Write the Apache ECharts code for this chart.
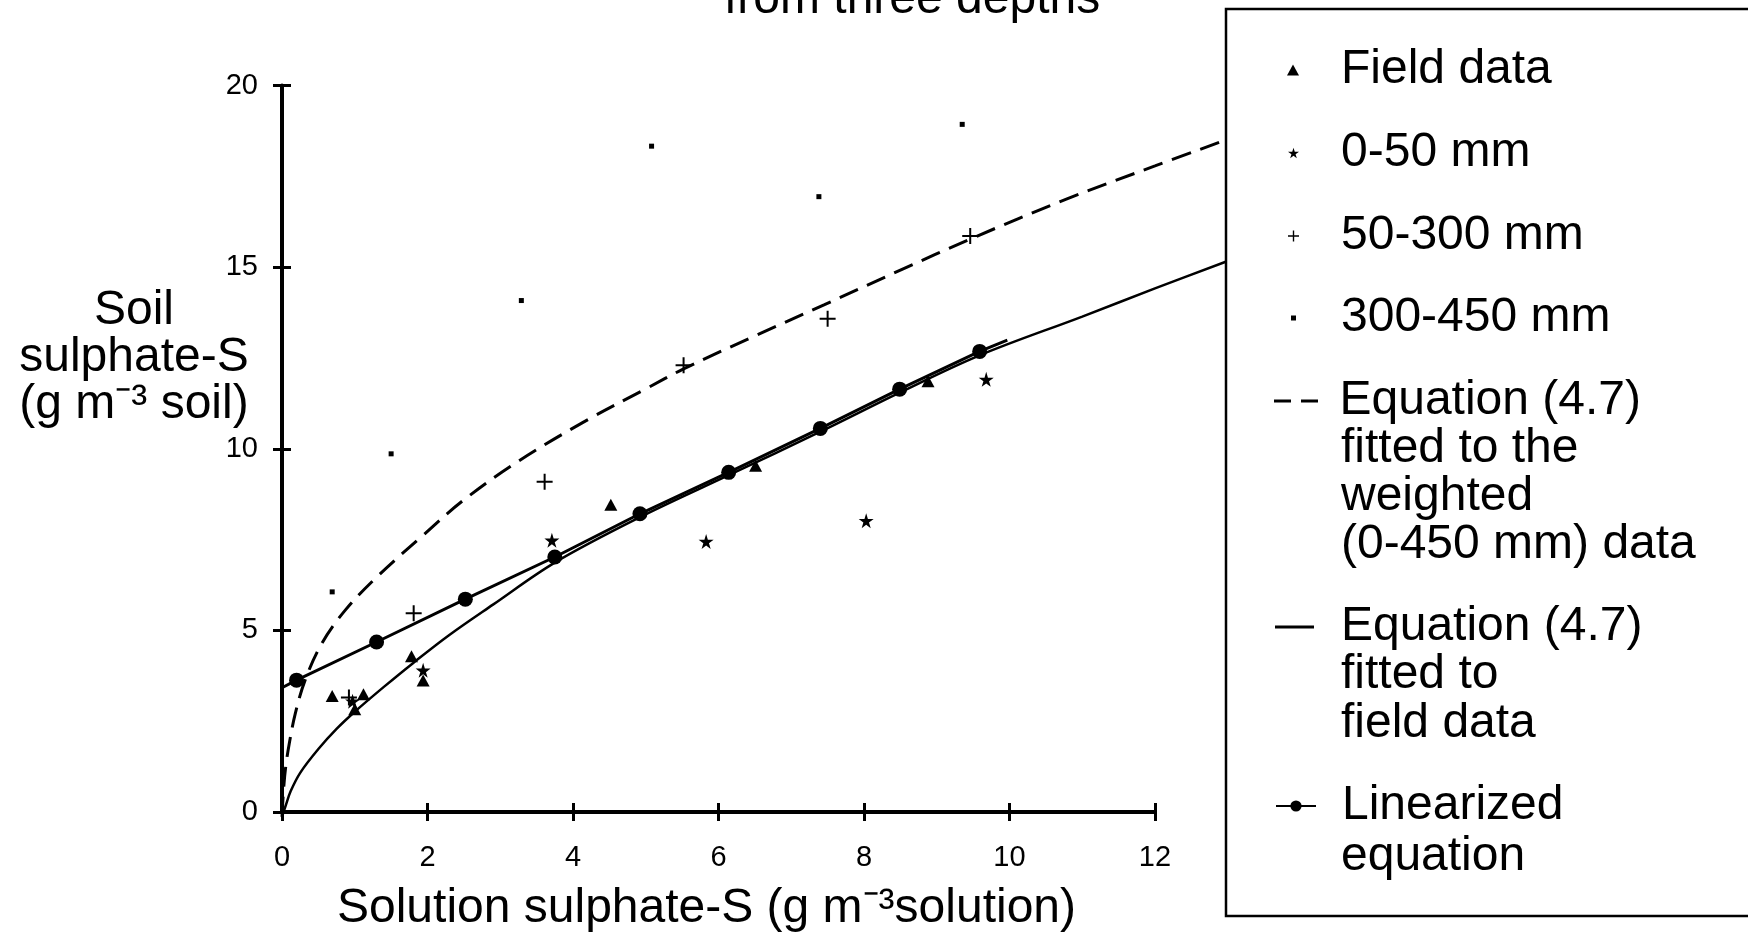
<!DOCTYPE html>
<html><head><meta charset="utf-8">
<script src="https://cdn.jsdelivr.net/npm/echarts@6/dist/echarts.min.js"></script>
<style>html,body{margin:0;padding:0;background:#fff}#c{width:1748px;height:938px}</style>
</head><body><div id="c"></div>
<script>
// ---- tick labels ----
const xTickLabels = ['0', '2', '4', '6', '8', '10', '12'];
const yTickLabels = ['0', '5', '10', '15', '20'];

// ---- scatter data [solution S, soil S] ----
const fieldData   = [[0.69, 3.19], [1.0, 2.83], [1.12, 3.24], [1.78, 4.29], [1.94, 3.62], [4.52, 8.46], [6.51, 9.53], [8.88, 11.86]];
const depth0to50  = [[0.97, 3.05], [1.94, 3.9], [3.71, 7.48], [5.83, 7.45], [8.03, 8.02], [9.68, 11.91]];
const depth50to300 = [[0.92, 3.15], [1.81, 5.47], [3.61, 9.09], [5.52, 12.3], [7.50, 13.58], [9.46, 15.86]];
const depth300to450 = [[0.69, 6.06], [1.50, 9.86], [3.29, 14.08], [5.08, 18.33], [7.38, 16.94], [9.35, 18.93]];

// ---- fitted curve (weighted 0-450 mm) ----
const weightedX = [0, 0.02, 0.05, 0.1, 0.18, 0.32, 0.55, 0.87, 1.3, 1.94, 2.49, 3.23, 4.15, 5.0, 5.52, 6.5, 7.45, 8.5, 9.46, 10.79, 12.0, 13.0];
const weightedY = [0, 0.7, 1.35, 2.0, 2.8, 3.75, 4.75, 5.65, 6.55, 7.7, 8.65, 9.7, 10.8, 11.7, 12.25, 13.15, 14.0, 14.95, 15.8, 16.9, 17.8, 18.53];

// ---- fitted curve (field data) ----
const fieldFitX = [0, 0.05, 0.12, 0.25, 0.5, 0.75, 1.0, 1.4, 1.8, 2.3, 2.9, 3.75, 4.92, 6.14, 7.4, 8.49, 9.59, 11.0, 12.0, 13.0];
const fieldFitY = [0, 0.3, 0.7, 1.2, 1.85, 2.4, 2.87, 3.55, 4.2, 4.97, 5.8, 6.95, 8.19, 9.34, 10.53, 11.6, 12.62, 13.68, 14.45, 15.2];

// ---- linearized equation ----
const linearX = [0, 0.2, 1.3, 2.52, 3.75, 4.92, 6.14, 7.4, 8.49, 9.59, 9.97];
const linearY = [3.42, 3.63, 4.68, 5.86, 7.02, 8.21, 9.35, 10.56, 11.64, 12.68, 12.99];
const linearMarked = [false, true, true, true, true, true, true, true, true, true, false];

const FONT = '"Liberation Sans", Arial, Helvetica, sans-serif';
const zip = (xs, ys) => xs.map((x, i) => [x, ys[i]]);

const NAMES = {
  field: 'Field data',
  d1: '0-50 mm',
  d2: '50-300 mm',
  d3: '300-450 mm',
  eqW: 'Equation (4.7) fitted to the weighted (0-450 mm) data',
  eqF: 'Equation (4.7) fitted to field data',
  lin: 'Linearized equation'
};

const STAR = 'path://M50,0 L61,35 L98,35 L68,57 L79,91 L50,70 L21,91 L32,57 L2,35 L39,35 Z';
const PLUS = 'path://M8.75,0h2.5v8.75h8.75v2.5h-8.75v8.75h-2.5v-8.75h-8.75v-2.5h8.75z';

const TEXT_X = 1341;
const TEXT_H = 46;
function legendItem(name, label, cy, left, iw, ih, icon) {
  const d = { name: name };
  if (icon) d.icon = icon;
  return {
    data: [d],
    left: left,
    top: cy - TEXT_H / 2,
    orient: 'horizontal',
    padding: 0,
    itemWidth: iw,
    itemHeight: ih,
    itemGap: 0,
    selectedMode: false,
    z: 20,
    formatter: () => label,
    textStyle: {
      fontSize: 48, color: '#000', fontFamily: FONT,
      padding: [0, 0, 0, TEXT_X - (left + iw + 5)]
    }
  };
}
function legendLine(text, y) {
  return { type: 'text', z: 20, style: { text: text, x: TEXT_X, y: y, fontSize: 48, fontFamily: FONT, fill: '#000', verticalAlign: 'middle' } };
}

// plot area geometry (px)
const G_LEFT = 282, G_TOP = 85.5, G_BOTTOM = 121.3, G_RIGHT = 593;
const PX_PER_X = (1748 - G_LEFT - G_RIGHT) / 12;
const CURVE_XMAX = 13;

const chart = echarts.init(document.getElementById('c'));
chart.setOption({
  backgroundColor: '#ffffff',
  animation: false,
  title: {
    text: 'from three depths',
    left: 719, top: -29,
    textStyle: { fontSize: 48, fontWeight: 'normal', color: '#000', fontFamily: FONT }
  },
  grid: [
    { left: G_LEFT, right: G_RIGHT, top: G_TOP, bottom: G_BOTTOM },
    // same scale, extended to the right so fitted curves run under the legend box
    { left: G_LEFT, right: 1748 - G_LEFT - PX_PER_X * CURVE_XMAX, top: G_TOP, bottom: G_BOTTOM }
  ],
  xAxis: [
    {
      type: 'value', gridIndex: 0, min: 0, max: 12, interval: 2, position: 'bottom',
      axisLine: { lineStyle: { color: '#000', width: 4 } }, splitLine: { show: false },
      axisTick: { length: 9, lineStyle: { color: '#000', width: 3 } },
      axisLabel: { margin: 31, fontSize: 29, color: '#000', fontFamily: FONT,
        formatter: v => xTickLabels[Math.round(v / 2)] },
      name: 'Solution sulphate-S (g m\u207B\u00B3solution)',
      nameLocation: 'middle', nameGap: 73,
      nameTextStyle: { fontSize: 48, color: '#000', fontFamily: FONT, padding: [0, 24, 0, 0] }
    },
    {
      type: 'value', gridIndex: 0, min: 0, max: 12, interval: 2, position: 'bottom',
      axisLine: { show: false }, splitLine: { show: false }, axisLabel: { show: false },
      axisTick: { inside: true, length: 9, lineStyle: { color: '#000', width: 3 } }
    },
    {
      type: 'value', gridIndex: 1, min: 0, max: CURVE_XMAX, show: false
    }
  ],
  yAxis: [
    {
      type: 'value', gridIndex: 0, min: 0, max: 20, interval: 5, position: 'left',
      axisLine: { lineStyle: { color: '#000', width: 4 } }, splitLine: { show: false },
      axisTick: { length: 9, lineStyle: { color: '#000', width: 3 } },
      axisLabel: { margin: 24, fontSize: 29, color: '#000', fontFamily: FONT,
        formatter: v => yTickLabels[Math.round(v / 5)] }
    },
    {
      type: 'value', gridIndex: 0, min: 0, max: 20, interval: 5, position: 'left',
      axisLine: { show: false }, splitLine: { show: false }, axisLabel: { show: false },
      axisTick: { inside: true, length: 9, lineStyle: { color: '#000', width: 3 } }
    },
    {
      type: 'value', gridIndex: 1, min: 0, max: 20, show: false
    }
  ],
  legend: [
    legendItem(NAMES.field, 'Field data', 69, 1287, 12, 11),
    legendItem(NAMES.d1, '0-50 mm', 152, 1288, 11, 11),
    legendItem(NAMES.d2, '50-300 mm', 235, 1288, 11, 11),
    legendItem(NAMES.d3, '300-450 mm', 317, 1291, 5, 5),
    legendItem(NAMES.eqW, 'Equation (4.7)', 400, 1274, 47, 3, 'path://M0,0h17v3h-17z M27,0h17v3h-17z'),
    legendItem(NAMES.eqF, 'Equation (4.7)', 626, 1275, 39, 3, 'rect'),
    legendItem(NAMES.lin, 'Linearized', 805, 1275, 40, 14)
  ],
  graphic: [
    { type: 'rect', z: 10, shape: { x: 1226, y: 9, width: 700, height: 907 },
      style: { fill: '#fff', stroke: '#000', lineWidth: 2.5 } },
    legendLine('fitted to the', 449),
    legendLine('weighted', 497),
    legendLine('(0-450 mm) data', 545),
    legendLine('fitted to', 675),
    legendLine('field data', 724),
    legendLine('equation', 857),
    // y-axis title
    { type: 'text', z: 20, style: { text: 'Soil\nsulphate-S\n(g m\u207B\u00B3 soil)', x: 134, y: 358, fontSize: 48, lineHeight: 47,
      fontFamily: FONT, fill: '#000', align: 'center', verticalAlign: 'middle' } }
  ],
  series: [
    { name: NAMES.eqW, type: 'line', xAxisIndex: 2, yAxisIndex: 2, z: 2, symbol: 'none', smooth: 0.35,
      data: zip(weightedX, weightedY), itemStyle: { color: '#000' },
      lineStyle: { color: '#000', width: 3, type: [20, 10] } },
    { name: NAMES.eqF, type: 'line', xAxisIndex: 2, yAxisIndex: 2, z: 2, symbol: 'none', smooth: 0.35,
      data: zip(fieldFitX, fieldFitY), itemStyle: { color: '#000' },
      lineStyle: { color: '#000', width: 2.5 } },
    { name: NAMES.lin, type: 'line', z: 3, symbol: 'circle', symbolSize: 15,
      data: linearX.map((x, i) => linearMarked[i] ? [x, linearY[i]] : { value: [x, linearY[i]], symbol: 'none' }),
      itemStyle: { color: '#000', opacity: 1 }, lineStyle: { color: '#000', width: 3 } },
    { name: NAMES.field, type: 'scatter', z: 4, symbol: 'triangle', symbolSize: [13, 12],
      data: fieldData, itemStyle: { color: '#000', opacity: 1 } },
    { name: NAMES.d1, type: 'scatter', z: 4, symbol: STAR, symbolSize: 15,
      data: depth0to50, itemStyle: { color: '#000', opacity: 1 } },
    { name: NAMES.d2, type: 'scatter', z: 4, symbol: PLUS, symbolSize: 16,
      data: depth50to300, itemStyle: { color: '#000', opacity: 1 } },
    { name: NAMES.d3, type: 'scatter', z: 4, symbol: 'rect', symbolSize: 5,
      data: depth300to450, itemStyle: { color: '#000', opacity: 1 } }
  ]
});
</script></body></html>
